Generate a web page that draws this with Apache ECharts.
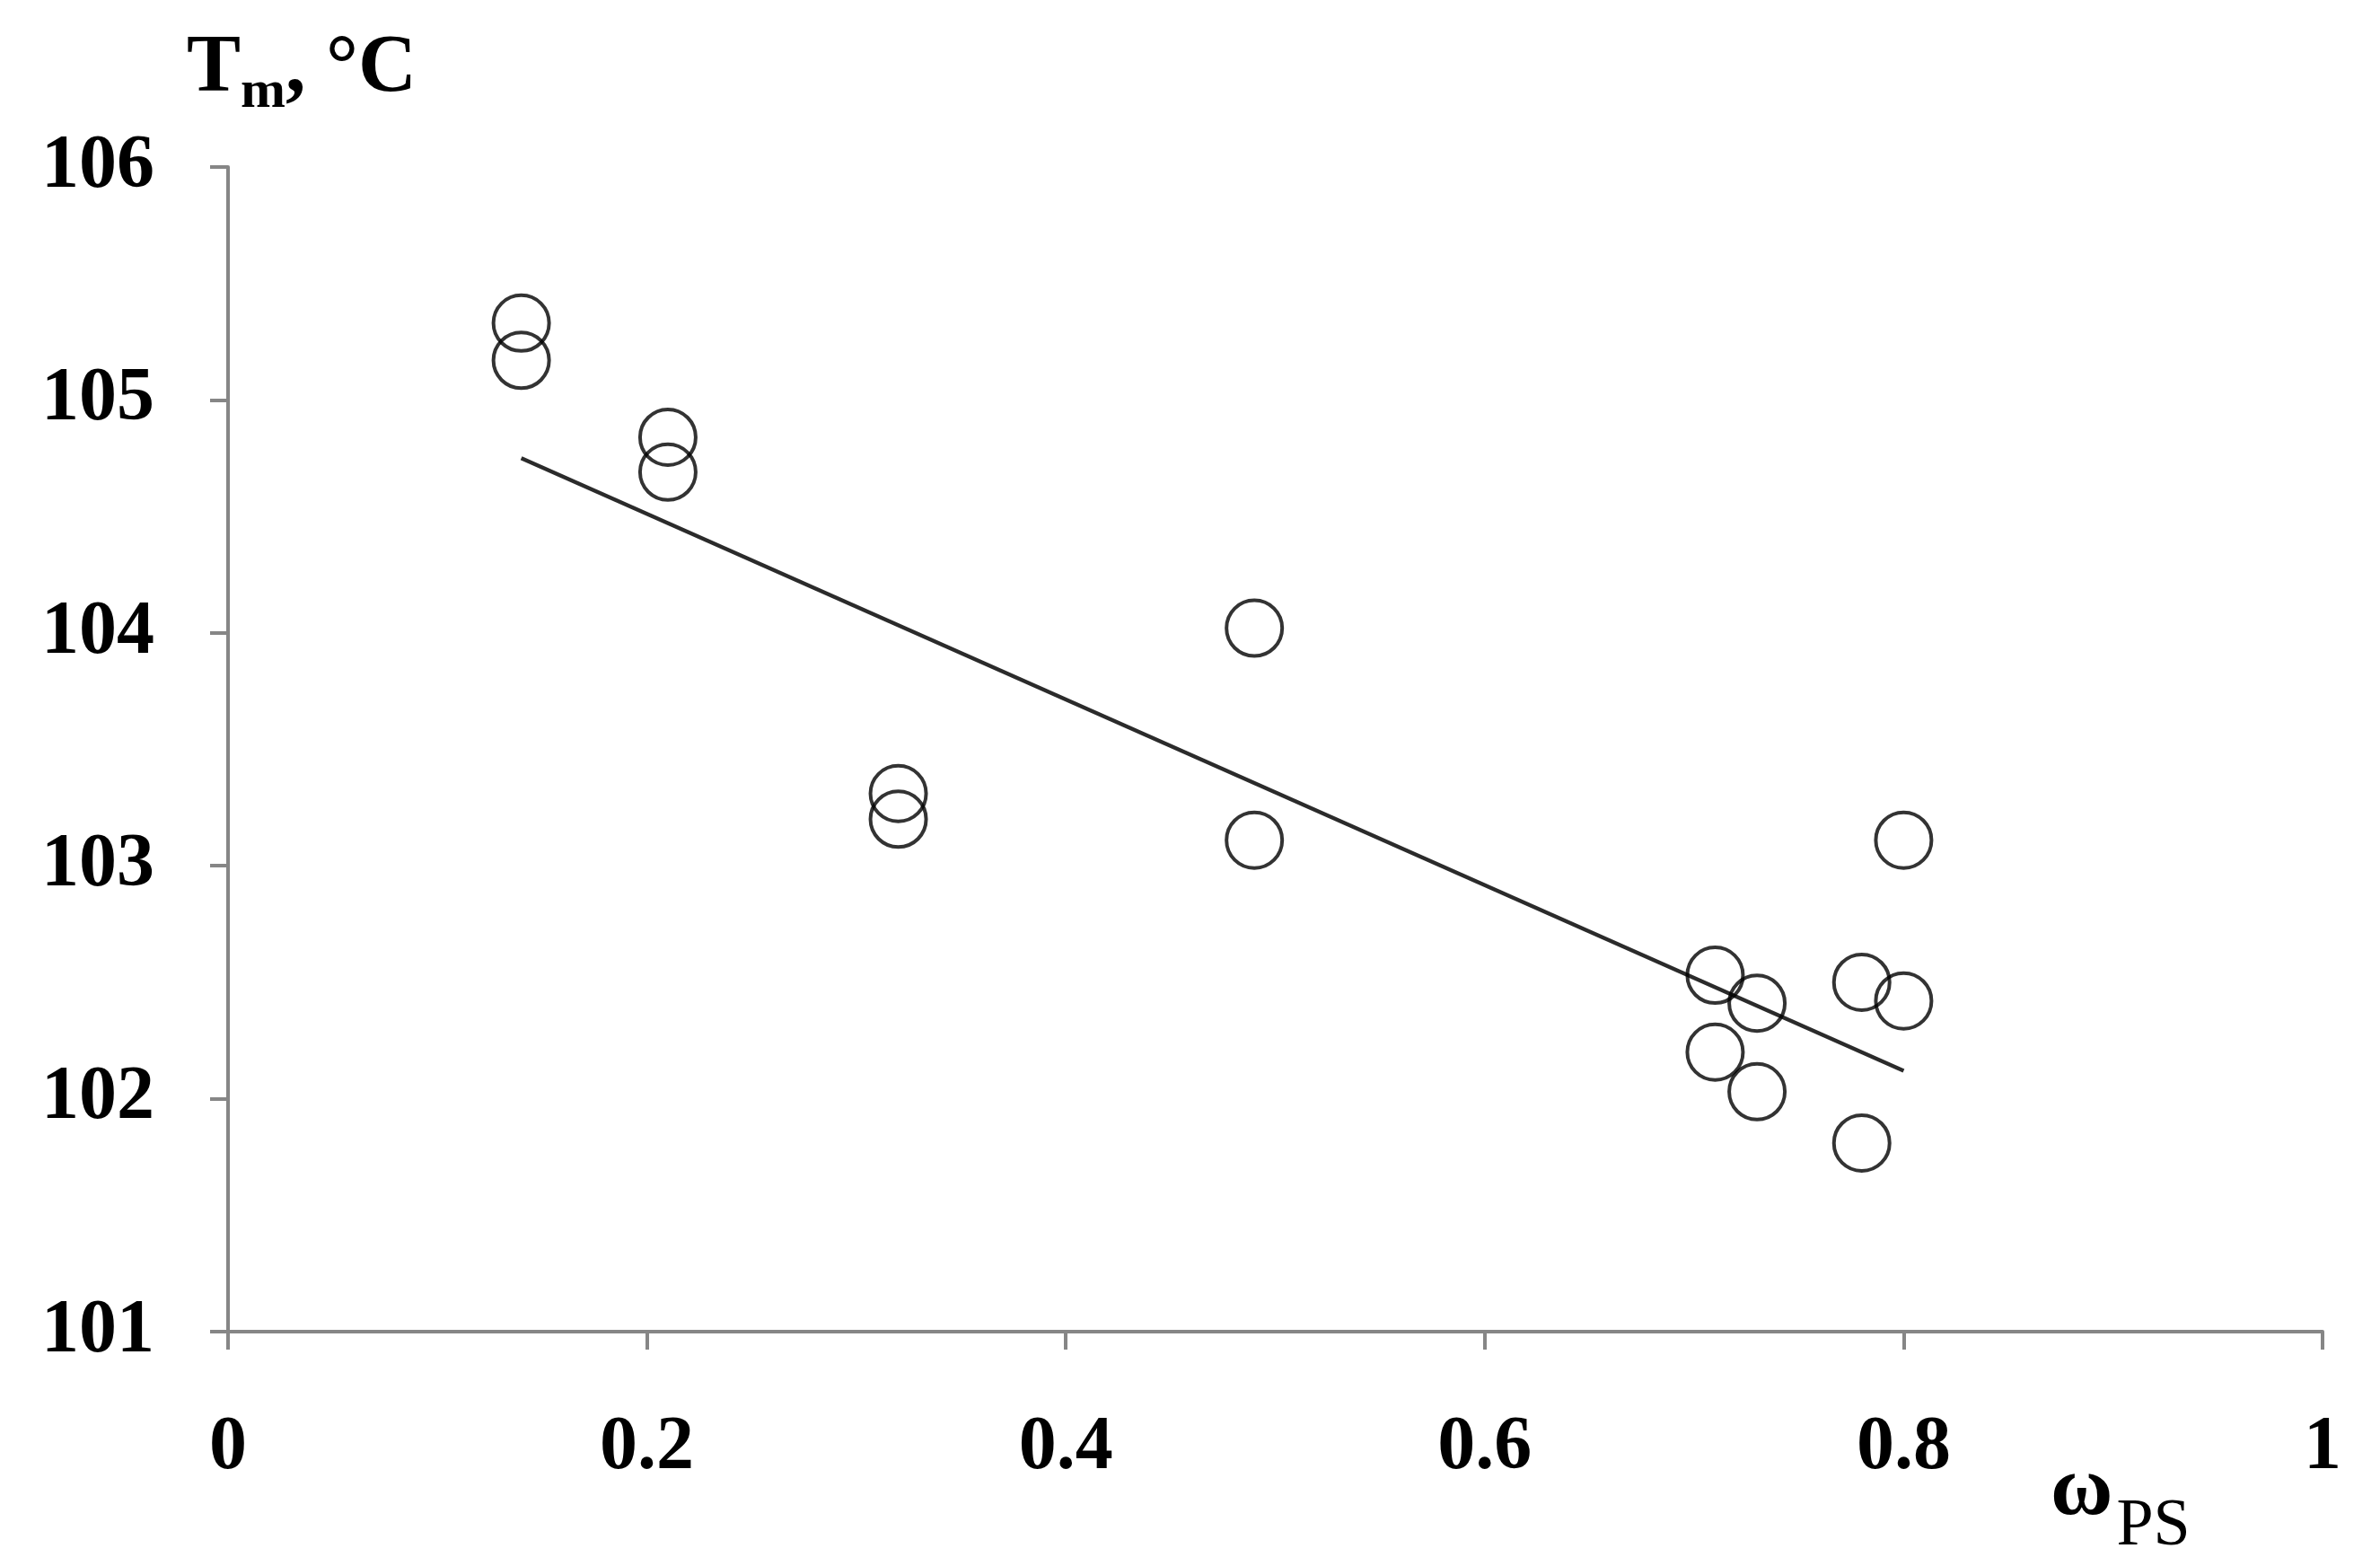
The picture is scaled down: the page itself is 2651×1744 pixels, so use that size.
<!DOCTYPE html>
<html>
<head>
<meta charset="utf-8">
<script src="https://cdn.jsdelivr.net/npm/echarts@6/dist/echarts.min.js"></script>
<style>
  html, body { margin: 0; padding: 0; background: #fff; }
  #chart { width: 2651px; height: 1744px; }
</style>
</head>
<body>
<div id="chart"></div>
<script>
// measured points (mass fraction of PS vs melting temperature)
var wPS = [0.14, 0.14, 0.21, 0.21, 0.32, 0.32, 0.49, 0.49,
           0.71, 0.71, 0.73, 0.73, 0.78, 0.78, 0.80, 0.80];
var tm  = [105.33, 105.17, 104.84, 104.69, 103.31, 103.20, 104.02, 103.11,
           102.53, 102.20, 102.41, 102.03, 102.50, 101.81, 103.11, 102.42];
// trend line ends
var trendX = [0.14, 0.80];
var trendY = [104.75, 102.12];

var serif = '"Liberation Serif", "Times New Roman", serif';
var axisColor = '#868686';

var points = [];
for (var i = 0; i < wPS.length; i++) {
    points.push([wPS[i], tm[i]]);
}
var trend = [];
for (var j = 0; j < trendX.length; j++) {
    trend.push([trendX[j], trendY[j]]);
}

var myChart = echarts.init(document.getElementById('chart'));
myChart.setOption({
    animation: false,
    backgroundColor: '#fff',
    title: [
        {   // y axis name
            text: '{a|T}{b|m}{a|, °C}',
            left: 208,
            top: 33,
            padding: 0,
            textStyle: {
                rich: {
                    a: { fontFamily: serif, fontWeight: 'bold', fontSize: 90, lineHeight: 100, color: '#000', verticalAlign: 'top' },
                    b: { fontFamily: serif, fontWeight: 'bold', fontSize: 60, lineHeight: 60, color: '#000', verticalAlign: 'bottom' }
                }
            }
        },
        {   // x axis name
            text: '{a|ω}{b|PS}',
            left: 2284,
            top: 1614,
            padding: 0,
            textStyle: {
                rich: {
                    a: { fontFamily: serif, fontWeight: 'bold', fontSize: 95, lineHeight: 124, color: '#000', verticalAlign: 'top' },
                    b: { fontFamily: serif, fontWeight: 'normal', fontSize: 74, lineHeight: 74, color: '#000', verticalAlign: 'bottom', padding: [0, 0, 0, 4] }
                }
            }
        }
    ],
    grid: { left: 254, right: 64, top: 186, bottom: 261 },
    xAxis: {
        type: 'value',
        min: 0,
        max: 1,
        interval: 0.2,
        splitLine: { show: false },
        axisLine: { lineStyle: { color: axisColor, width: 4 } },
        axisTick: { length: 20, lineStyle: { color: axisColor, width: 4 } },
        axisLabel: { margin: 88, fontFamily: serif, fontWeight: 'bold', fontSize: 84, color: '#000' }
    },
    yAxis: {
        type: 'value',
        min: 101,
        max: 106,
        interval: 1,
        splitLine: { show: false },
        axisLine: { show: true, lineStyle: { color: axisColor, width: 4 } },
        axisTick: { show: true, length: 20, lineStyle: { color: axisColor, width: 4 } },
        axisLabel: { margin: 82, fontFamily: serif, fontWeight: 'bold', fontSize: 84, color: '#000' }
    },
    series: [
        {
            type: 'line',
            data: trend,
            symbol: 'none',
            lineStyle: { color: '#2b2b2b', width: 4.5 },
            z: 1
        },
        {
            type: 'scatter',
            data: points,
            symbol: 'circle',
            symbolSize: 62,
            itemStyle: { color: 'rgba(0,0,0,0)', borderColor: '#000', borderWidth: 4 },
            z: 2
        }
    ]
});
</script>
</body>
</html>
